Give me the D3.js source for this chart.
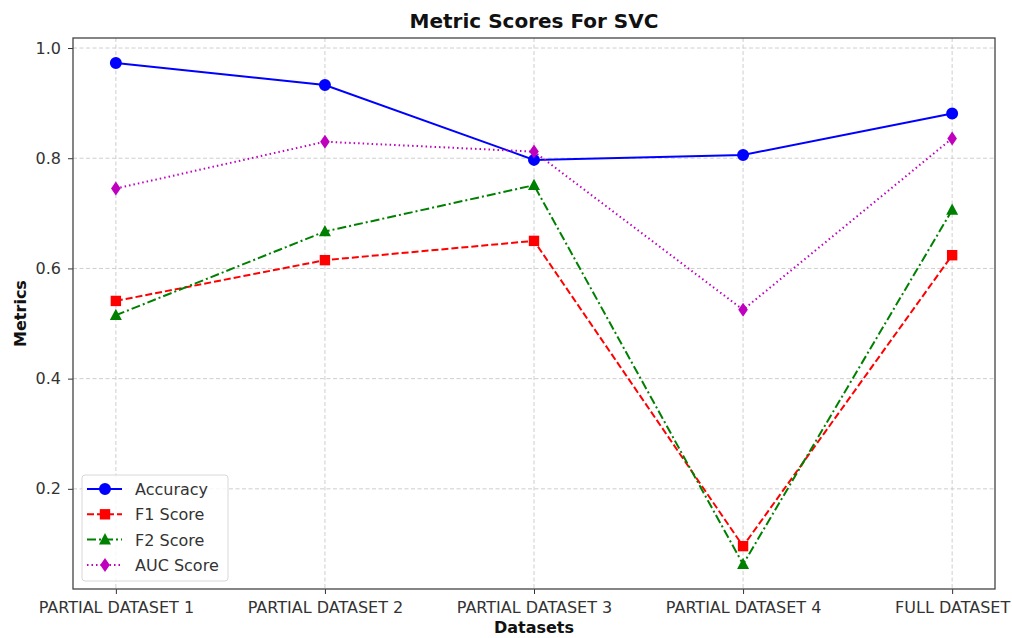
<!DOCTYPE html>
<html><head><meta charset="utf-8">
<script src="https://cdn.jsdelivr.net/npm/d3@7"></script>
<style>body{margin:0;background:#fff}svg{display:block}text{font-family:"DejaVu Sans",sans-serif}</style>
</head><body><svg id="c" width="1012" height="638"></svg>
<script>
const categories = ["PARTIAL DATASET 1","PARTIAL DATASET 2","PARTIAL DATASET 3","PARTIAL DATASET 4","FULL DATASET"];
const accuracy = [0.973, 0.933, 0.797, 0.806, 0.881];
const f1Score  = [0.541, 0.615, 0.650, 0.096, 0.624];
const f2Score  = [0.515, 0.667, 0.751, 0.063, 0.706];
const aucScore = [0.745, 0.830, 0.812, 0.525, 0.836];
const yTicks = [0.2, 0.4, 0.6, 0.8, 1.0];
const seriesNames = ["Accuracy","F1 Score","F2 Score","AUC Score"];

const series = [
  {name: seriesNames[0], values: accuracy, color: "#0000ff", dash: null, marker: "circle"},
  {name: seriesNames[1], values: f1Score, color: "#ff0000", dash: "7,3", marker: "square"},
  {name: seriesNames[2], values: f2Score, color: "#008000", dash: "9,3,2,3", marker: "triangle"},
  {name: seriesNames[3], values: aucScore, color: "#bf00bf", dash: "1.5,3", marker: "diamond"}
];

const L = 73, R = 995, T = 38, B = 589;
const svg = d3.select("#c");
const x = d3.scaleLinear().domain([-0.205, 4.205]).range([L, R]);
const y = d3.scaleLinear().domain([0.0182, 1.0182]).range([B, T]);

// grid
const g = svg.append("g");
g.selectAll("line.gy").data(yTicks).join("line")
  .attr("x1", L).attr("x2", R).attr("y1", d => y(d)).attr("y2", d => y(d))
  .attr("stroke", "#c8c8c8").attr("stroke-width", 0.9).attr("stroke-dasharray", "4,2.5");
g.selectAll("line.gx").data(categories).join("line")
  .attr("x1", (d,i) => x(i)).attr("x2", (d,i) => x(i)).attr("y1", T).attr("y2", B)
  .attr("stroke", "#c8c8c8").attr("stroke-width", 0.9).attr("stroke-dasharray", "4,2.5");

// axes
const xAxis = d3.axisBottom(x).tickValues(d3.range(categories.length)).tickFormat(i => categories[i]).tickSize(5).tickPadding(8);
const yAxis = d3.axisLeft(y).tickValues(yTicks).tickFormat(d3.format(".1f")).tickSize(5).tickPadding(7);
const ax = svg.append("g").attr("transform", `translate(0,${B})`).call(xAxis);
const ay = svg.append("g").attr("transform", `translate(${L},0)`).call(yAxis);
[ax, ay].forEach(a => {
  a.select(".domain").remove();
  a.selectAll(".tick line").attr("stroke", "#333").attr("stroke-width", 1);
  a.selectAll(".tick text").attr("fill", "#333").style("font-size", "16px");
});
svg.append("rect").attr("x", L).attr("y", T).attr("width", R - L).attr("height", B - T)
  .attr("fill", "none").attr("stroke", "#444").attr("stroke-width", 1.3);

// lines
const line = d3.line().x((d,i) => x(i)).y(d => y(d));
const markerPath = {
  circle: d3.symbol(d3.symbolCircle, 113)(),
  square: "M-5.2,-5.2H5.2V5.2H-5.2Z",
  triangle: "M0,-6.5L6,4.8H-6Z",
  diamond: "M0,-7L4.8,0L0,7L-4.8,0Z"
};
series.forEach(s => {
  svg.append("path").datum(s.values).attr("d", line).attr("fill", "none")
    .attr("stroke", s.color).attr("stroke-width", 2)
    .attr("stroke-dasharray", s.dash);
  svg.selectAll(null).data(s.values).join("path")
    .attr("d", markerPath[s.marker])
    .attr("transform", (d,i) => `translate(${x(i)},${y(d)})`)
    .attr("fill", s.color);
});

// legend
const lg = svg.append("g");
lg.append("rect").attr("x", 82).attr("y", 475).attr("width", 146).attr("height", 106).attr("rx", 3)
  .attr("fill", "#fff").attr("fill-opacity", 0.8).attr("stroke", "#d8d8d8");
series.forEach((s, i) => {
  const yy = 489 + i * 25.3;
  lg.append("line").attr("x1", 87).attr("x2", 122).attr("y1", yy).attr("y2", yy)
    .attr("stroke", s.color).attr("stroke-width", 2).attr("stroke-dasharray", s.dash);
  lg.append("path").attr("d", markerPath[s.marker]).attr("transform", `translate(105,${yy})`).attr("fill", s.color);
  lg.append("text").attr("x", 135).attr("y", yy + 6).text(s.name).attr("fill", "#333").style("font-size", "16px");
});

// titles
svg.append("text").attr("x", (L + R) / 2).attr("y", 28).attr("text-anchor", "middle")
  .style("font-size", "20px").style("font-weight", "bold").attr("fill", "#111").text("Metric Scores For SVC");
svg.append("text").attr("x", (L + R) / 2).attr("y", 633).attr("text-anchor", "middle")
  .style("font-size", "16px").style("font-weight", "bold").attr("fill", "#111").text("Datasets");
svg.append("text").attr("transform", `translate(26,${(T + B) / 2}) rotate(-90)`).attr("text-anchor", "middle")
  .style("font-size", "16px").style("font-weight", "bold").attr("fill", "#111").text("Metrics");
</script></body></html>
